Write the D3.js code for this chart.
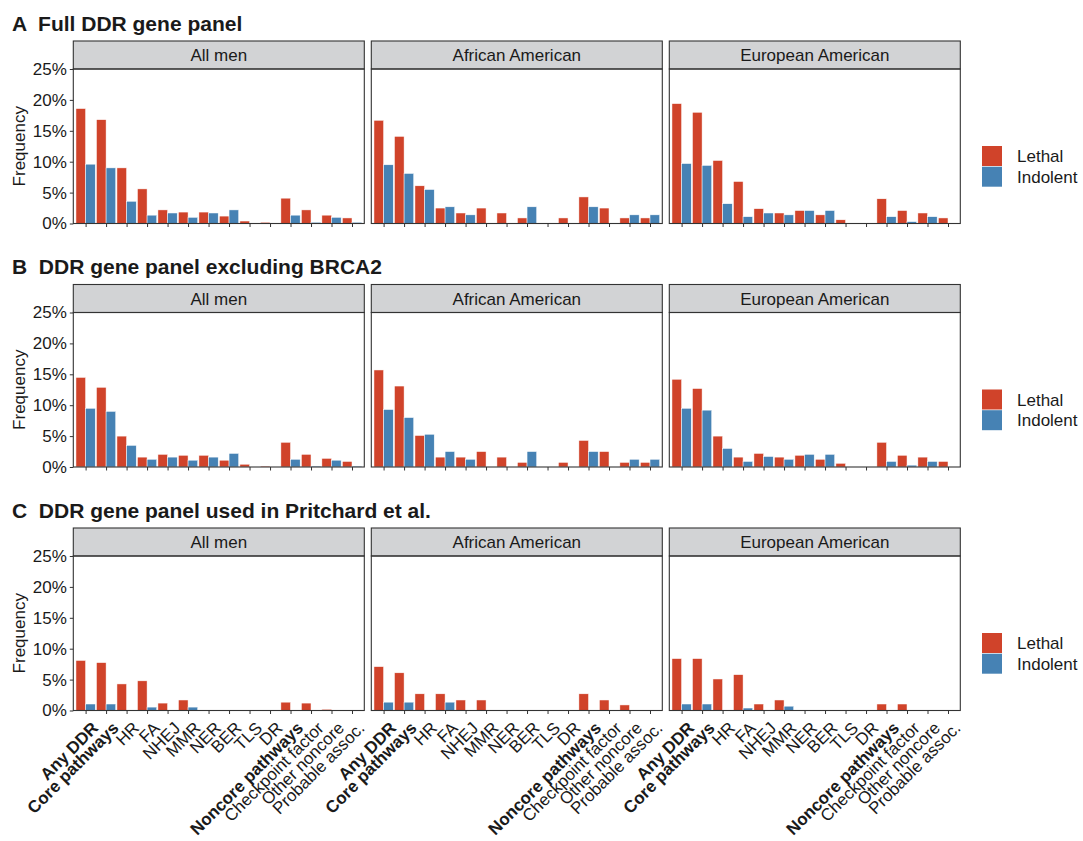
<!DOCTYPE html>
<html lang="en">
<head>
<meta charset="utf-8">
<script src="https://d3js.org/d3.v7.min.js"></script>
<style>
  body { margin: 0; background: #fff; }
  svg text { font-family: "Liberation Sans", Arial, Helvetica, sans-serif; fill: #1a1a1a; }
</style>
</head>
<body>
<div id="chart"></div>
<script>
  var categories = ["Any DDR", "Core pathways", "HR", "FA", "NHEJ", "MMR", "NER", "BER", "TLS", "DR",
    "Noncore pathways", "Checkpoint factor", "Other noncore", "Probable assoc."];
  var boldCategories = ["Any DDR", "Core pathways", "Noncore pathways"];
  var facets = ["All men", "African American", "European American"];
  var groups = ["Lethal", "Indolent"];
  var groupColors = ["#d0432a", "#4682b4"];
  var yTicks = [0, 5, 10, 15, 20, 25];
  var panelTitles = ["A  Full DDR gene panel", "B  DDR gene panel excluding BRCA2", "C  DDR gene panel used in Pritchard et al."];

  // A: full panel (percent)
  var fullAllLethal   = [18.6, 16.8, 9.0, 5.6, 2.2, 1.85, 1.85, 1.2, 0.4, 0.2, 4.1, 2.2, 1.35, 0.9];
  var fullAllIndolent = [9.6, 9.0, 3.6, 1.35, 1.7, 1.0, 1.7, 2.2, 0, 0, 1.35, 0.2, 1.0, 0.2];
  var fullAALethal    = [16.7, 14.1, 6.1, 2.5, 1.7, 2.5, 1.7, 0.9, 0, 0.9, 4.3, 2.5, 0.9, 0.9];
  var fullAAIndolent  = [9.5, 8.1, 5.5, 2.7, 1.4, 0, 0, 2.7, 0, 0, 2.7, 0, 1.4, 1.4];
  var fullEALethal    = [19.4, 18.0, 10.2, 6.8, 2.4, 1.7, 2.1, 1.4, 0.6, 0, 4.0, 2.1, 1.7, 0.9];
  var fullEAIndolent  = [9.7, 9.4, 3.2, 1.1, 1.7, 1.4, 2.1, 2.1, 0, 0, 1.1, 0.3, 1.1, 0];

  // B: excluding BRCA2
  var exclAllLethal   = [14.5, 12.9, 5.0, 1.6, 2.05, 1.9, 1.9, 1.1, 0.45, 0.15, 4.0, 2.05, 1.4, 0.9];
  var exclAllIndolent = [9.5, 9.0, 3.5, 1.25, 1.6, 1.1, 1.6, 2.2, 0, 0, 1.25, 0.15, 1.1, 0.15];
  var exclAALethal    = [15.7, 13.1, 5.1, 1.6, 1.6, 2.5, 1.6, 0.75, 0, 0.75, 4.3, 2.5, 0.75, 0.75];
  var exclAAIndolent  = [9.3, 8.0, 5.3, 2.5, 1.25, 0, 0, 2.5, 0, 0, 2.5, 0, 1.25, 1.25];
  var exclEALethal    = [14.2, 12.7, 5.0, 1.6, 2.2, 1.6, 1.9, 1.25, 0.6, 0, 4.0, 1.9, 1.6, 0.9];
  var exclEAIndolent  = [9.5, 9.2, 3.0, 0.9, 1.7, 1.25, 2.05, 2.05, 0, 0, 0.9, 0.3, 0.9, 0];

  // C: Pritchard et al. panel
  var pritAllLethal   = [8.1, 7.75, 4.3, 4.8, 1.2, 1.7, 0, 0, 0, 0, 1.35, 1.2, 0.2, 0];
  var pritAllIndolent = [1.05, 1.05, 0, 0.55, 0, 0.55, 0, 0, 0, 0, 0, 0, 0, 0];
  var pritAALethal    = [7.1, 6.1, 2.7, 2.7, 1.7, 1.7, 0, 0, 0, 0, 2.7, 1.7, 0.9, 0];
  var pritAAIndolent  = [1.35, 1.35, 0, 1.35, 0, 0, 0, 0, 0, 0, 0, 0, 0, 0];
  var pritEALethal    = [8.4, 8.4, 5.1, 5.8, 1.05, 1.7, 0, 0, 0, 0, 1.05, 1.05, 0, 0];
  var pritEAIndolent  = [1.05, 1.05, 0, 0.4, 0, 0.7, 0, 0, 0, 0, 0, 0, 0, 0];

  var panels = [
    [[fullAllLethal, fullAllIndolent], [fullAALethal, fullAAIndolent], [fullEALethal, fullEAIndolent]],
    [[exclAllLethal, exclAllIndolent], [exclAALethal, exclAAIndolent], [exclEALethal, exclEAIndolent]],
    [[pritAllLethal, pritAllIndolent], [pritAALethal, pritAAIndolent], [pritEALethal, pritEAIndolent]]
  ];

  var W = 1083, H = 841;
  var facetLeft = 73.3, facetW = 291, facetGap = 7;
  var panelTops = [41, 284.5, 528];
  var stripH = 28, plotH = 154.5;
  var border = "#333333";

  var svg = d3.select("#chart").append("svg")
      .attr("width", W)
      .attr("height", H)
      .style("background-color", "white");

  var x = d3.scalePoint().domain(categories).range([0, facetW]).padding(0.6);
  var barW = x.step() * 0.47;
  var y = d3.scaleLinear().domain([0, 25]).range([plotH, 0]);

  panels.forEach(function(panel, p) {
    var top = panelTops[p];

    svg.append("text")
        .attr("x", 12)
        .attr("y", top - 10.5)
        .style("font-size", "21px")
        .style("font-weight", "bold")
        .style("white-space", "pre")
        .attr("fill", "#000")
        .text(panelTitles[p]);

    panel.forEach(function(series, f) {
      var g = svg.append("g")
          .attr("transform", "translate(" + (facetLeft + f * (facetW + facetGap)) + "," + (top + stripH) + ")");

      // strip
      g.append("rect")
          .attr("x", 0).attr("y", -stripH)
          .attr("width", facetW).attr("height", stripH)
          .attr("fill", "#d2d3d5")
          .attr("stroke", border).attr("stroke-width", 1.1);
      g.append("text")
          .attr("x", facetW / 2)
          .attr("y", -stripH / 2)
          .attr("dy", "0.36em")
          .attr("text-anchor", "middle")
          .style("font-size", "17px")
          .text(facets[f]);

      // bars
      series.forEach(function(vals, s) {
        g.selectAll(null)
            .data(vals.map(function(v, i) { return {cat: categories[i], v: v}; })
                .filter(function(d) { return d.v > 0; }))
            .enter().append("rect")
            .attr("x", function(d) { return x(d.cat) + (s === 0 ? -barW : 0); })
            .attr("y", function(d) { return y(d.v); })
            .attr("width", barW)
            .attr("height", function(d) { return plotH - y(d.v); })
            .attr("fill", groupColors[s])
            .attr("stroke", "white")
            .attr("stroke-width", 0.5);
      });

      // panel border
      g.append("rect")
          .attr("width", facetW).attr("height", plotH)
          .attr("fill", "none")
          .attr("stroke", border).attr("stroke-width", 1.1);

      // x ticks
      var xAxis = g.append("g")
          .attr("transform", "translate(0," + plotH + ")")
          .call(d3.axisBottom(x).tickSize(3.5).tickFormat(""));
      xAxis.select(".domain").remove();
      xAxis.selectAll("line").attr("stroke", border);

      if (p === 2) {
        categories.forEach(function(c) {
          g.append("text")
              .attr("transform", "translate(" + (x(c) + 5) + "," + (plotH + 10) + ") rotate(-45)")
              .attr("text-anchor", "end")
              .attr("dy", "0.72em")
              .style("font-size", "17px")
              .style("font-weight", boldCategories.indexOf(c) >= 0 ? "bold" : "normal")
              .text(c);
        });
      }

      if (f === 0) {
        var yAxis = g.append("g")
            .call(d3.axisLeft(y).tickValues(yTicks).tickSize(3.5).tickPadding(3)
              .tickFormat(function(d) { return d + "%"; }));
        yAxis.select(".domain").remove();
        yAxis.selectAll("line").attr("stroke", border);
        yAxis.selectAll("text")
            .style("font-size", "17px")
            .attr("fill", "#1a1a1a")
            .style("font-family", "'Liberation Sans', Arial, sans-serif");

        g.append("text")
            .attr("transform", "translate(" + (-48) + "," + (plotH / 2) + ") rotate(-90)")
            .attr("text-anchor", "middle")
            .style("font-size", "17px")
            .text("Frequency");
      }
    });

    // legend
    var lg = svg.append("g").attr("transform", "translate(982," + (top + 105) + ")");
    groups.forEach(function(name, i) {
      lg.append("rect")
          .attr("x", 0).attr("y", i * 20.7)
          .attr("width", 20).attr("height", 20)
          .attr("fill", groupColors[i]);
      lg.append("text")
          .attr("x", 35)
          .attr("y", i * 20.7 + 10)
          .attr("dy", "0.36em")
          .style("font-size", "17px")
          .text(name);
    });
  });
</script>
</body>
</html>
